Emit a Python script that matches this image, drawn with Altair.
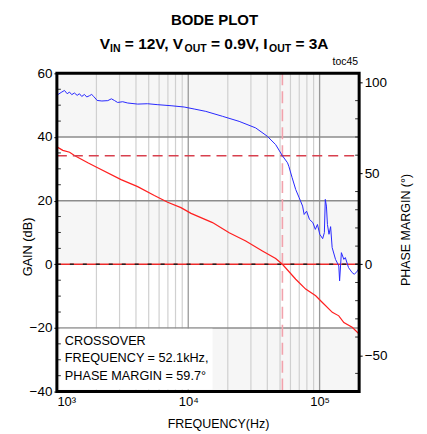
import altair as alt
import pandas as pd

# ---------------- data ----------------
gain_freq = [1000, 1110, 1250, 1360, 1720, 1990, 3080, 4120, 5520, 6970, 8800, 10500,
             15300, 20500, 27400, 36700, 46300, 52100, 65800, 78300, 93400, 105000,
             125000, 140000, 153000, 177000, 200000]
gain_db = [36.9, 35.8, 35.2, 34.2, 31.9, 30.6, 26.6, 24.4, 21.6, 19.5, 17.8, 16.0,
           13.1, 9.9, 7.3, 4.2, 1.8, 0.0, -4.7, -7.8, -9.9, -12.0,
           -15.1, -16.2, -18.3, -19.8, -21.9]

phase_freq = [1000, 1016, 1078, 1142, 1198, 1247, 1298, 1360, 1427, 1485, 1546, 1621,
              1688, 1769, 1841, 1907, 2025, 2200, 2440, 2600, 2740, 2900, 3170, 3460,
              4120, 4900, 5800, 7400, 9300, 11100, 13600, 18200, 24400, 32600, 40000,
              46300, 52100, 57000, 58300, 61800, 65800, 69900, 74200, 76300, 79600,
              83700, 88900, 92800, 96300, 100300, 105500, 108700, 110500, 112700,
              114700, 117900, 121300, 124600, 132200, 140000, 142000, 146500, 153000,
              157000, 166000, 177000, 184000, 194000, 200000]
phase_deg = [93.3, 93.3, 94.5, 95.6, 93.8, 94.7, 93.3, 94.2, 92.9, 93.8, 92.3, 93.4,
             92.0, 92.7, 93.4, 92.3, 90.1, 89.8, 90.0, 91.0, 90.1, 89.0, 89.4, 88.7,
             88.1, 88.3, 87.8, 87.2, 86.5, 85.4, 84.1, 81.4, 78.6, 75.0, 70.4,
             65.8, 59.7, 55.8, 53.9, 47.6, 41.1, 36.6, 32.0, 27.4, 29.2,
             24.7, 22.9, 19.2, 21.9, 16.5, 14.1, 17.4, 35.7, 32.0,
             21.9, 16.5, 20.7, 9.2, 2.7, -0.9, -9.1, 6.4, 2.7,
             3.7, -1.8, -4.6, -5.5, -3.7, -2.0]

minor_grid = [2000, 3000, 4000, 5000, 6000, 7000, 8000, 9000,
              20000, 30000, 40000, 50000, 60000, 70000, 80000, 90000]
decade_grid = [10000, 100000]
gain_grid = [40, 20, -20]
band_lo = [40, 0, -40]
band_hi = [60, 20, -20]
gain_minor = [-35, -30, -25, -15, -10, -5, 5, 10, 15, 25, 30, 35, 45, 50, 55]
phase_minor = [-60, -40, -30, -20, -10, 10, 20, 30, 40, 60, 70, 80, 90]

crossover_freq = [52100]
phase_margin = [59.7]
zero_db = [0]

gain_ticks = [-40, -20, 0, 20, 40, 60]
phase_ticks = [-50, 0, 50, 100]
freq_ticks = [1000, 10000, 100000]

# subtitle pieces: (text, is_subscript)
subtitle_parts = [("V", False), ("IN", True), (" = 12V, V", False), ("OUT", True),
                  (" = 0.9V, I", False), ("OUT", True), (" = 3A", False)]

# ---------------- layout ----------------
W, H = 303, 319
FONT = "Liberation Sans, Arial, sans-serif"

xs = alt.Scale(type="log", domain=[1000, 200000])
gs = alt.Scale(domain=[-40, 60])
ps = alt.Scale(domain=[-70, 105])

x_axis = alt.Axis(values=freq_ticks,
                  labelExpr="datum.value == 1000 ? '10³' : (datum.value == 10000 ? '10⁴' : '10⁵')",
                  grid=False, domain=False, ticks=False, labelFont=FONT, labelFontSize=13,
                  labelColor="black", labelPadding=4, labelFlush=True, title=None)
g_axis = alt.Axis(values=gain_ticks, grid=False, domain=False, tickSize=3, tickColor="black",
                  labelFont=FONT, labelFontSize=13.5, labelColor="black", labelPadding=2,
                  title=None)
p_axis = alt.Axis(orient="right", values=phase_ticks, grid=False, domain=False, tickSize=3,
                  tickColor="black", labelFont=FONT, labelFontSize=13.5, labelColor="black",
                  labelPadding=2, title=None)


def X(field):
    return alt.X(field, type="quantitative", scale=xs, axis=x_axis)


def GY(field):
    return alt.Y(field, type="quantitative", scale=gs, axis=g_axis)


def PY(field):
    return alt.Y(field, type="quantitative", scale=ps, axis=p_axis)


def label(text, x, y, size=13, bold=False, align="center", angle=0, baseline="middle"):
    return alt.Chart(pd.DataFrame({"t": [text]})).mark_text(
        align=align, baseline=baseline, font=FONT, fontSize=size,
        fontWeight="bold" if bold else "normal", angle=angle, color="black"
    ).encode(text="t:N", x=alt.value(x), y=alt.value(y))


# Arial/Liberation Sans Bold advance widths (em) to place subscript pieces
BOLD_W = {"V": .667, "I": .278, "N": .722, "O": .778, "U": .722, "T": .611, " ": .278,
          "=": .584, "1": .556, "2": .556, ",": .278, "0": .556, ".": .278, "9": .556,
          "3": .556, "A": .722}
MAIN_SIZE, SUB_SIZE = 15.5, 10.5
sub_layers = []
cur = 43.0
for txt, is_sub in subtitle_parts:
    size = SUB_SIZE if is_sub else MAIN_SIZE
    lead = 0.0
    shown = txt
    if txt.startswith(" "):
        lead = BOLD_W[" "] * size
        shown = txt.lstrip(" ")
    y = -21.2 if is_sub else -24.7
    sub_layers.append(label(shown, cur + lead, y, size=size, bold=True, align="left",
                            baseline="alphabetic"))
    cur += sum(BOLD_W[c] for c in txt) * size

one = pd.DataFrame({"k": [0]})

bands = alt.Chart(pd.DataFrame({"lo": band_lo, "hi": band_hi})).mark_rect(
    color="#f6f6f6").encode(y=GY("lo"), y2="hi:Q", x=alt.value(0), x2=alt.value(W))
vminor = alt.Chart(pd.DataFrame({"f": minor_grid})).mark_rule(
    color="#d0d0d0", strokeWidth=1.2).encode(x=X("f"), y=alt.value(0), y2=alt.value(H))
vmajor = alt.Chart(pd.DataFrame({"f": decade_grid})).mark_rule(
    color="#999999", strokeWidth=1.3).encode(x=X("f"), y=alt.value(0), y2=alt.value(H))
hgrid = alt.Chart(pd.DataFrame({"g": gain_grid})).mark_rule(
    color="#8c8c8c", strokeWidth=1.5).encode(y=GY("g"), x=alt.value(0), x2=alt.value(W))

box = alt.Chart(one).mark_rect(color="white").encode(
    x=alt.value(3), x2=alt.value(156), y=alt.value(256), y2=alt.value(H - 2))
note1 = label("CROSSOVER", 8, 268.5, size=12.7, align="left")
note2 = label("FREQUENCY = 52.1kHz,", 8, 285.5, size=12.7, align="left")
note3 = label("PHASE MARGIN = 59.7°", 8, 303.5, size=12.7, align="left")

zero_red = alt.Chart(pd.DataFrame({"g": zero_db})).mark_rule(
    color="#ee2a2a", strokeWidth=1.5).encode(y=GY("g"), x=alt.value(0), x2=alt.value(W))
zero_dash = alt.Chart(pd.DataFrame({"g": zero_db})).mark_rule(
    color="#222222", strokeWidth=1.5, strokeDash=[4, 9]).encode(
    y=GY("g"), x=alt.value(0), x2=alt.value(W))
vcross = alt.Chart(pd.DataFrame({"f": crossover_freq})).mark_rule(
    color="#f2a2ac", strokeWidth=1.6, strokeDash=[12, 6]).encode(
    x=X("f"), y=alt.value(0), y2=alt.value(H))
gain_line = alt.Chart(pd.DataFrame({"f": gain_freq, "g": gain_db})).mark_line(
    color="#ff1f1f", strokeWidth=1.2).encode(x=X("f"), y=GY("g"))
gminor = alt.Chart(pd.DataFrame({"g": gain_minor})).mark_rule(
    color="#333333", strokeWidth=1).encode(y=GY("g"), x=alt.value(0), x2=alt.value(4))

pm_line = alt.Chart(pd.DataFrame({"p": phase_margin})).mark_rule(
    color="#d8404e", strokeWidth=1.6, strokeDash=[10, 6]).encode(
    y=PY("p"), x=alt.value(0), x2=alt.value(W))
phase_line = alt.Chart(pd.DataFrame({"f": phase_freq, "p": phase_deg})).mark_line(
    color="#2828ff", strokeWidth=1).encode(x=X("f"), y=PY("p"))
pminor = alt.Chart(pd.DataFrame({"p": phase_minor})).mark_rule(
    color="#333333", strokeWidth=1).encode(y=PY("p"), x=alt.value(W - 4), x2=alt.value(W))

frame = alt.Chart(one).mark_rect(filled=False, stroke="black", strokeWidth=3).encode(
    x=alt.value(0), x2=alt.value(W), y=alt.value(0), y2=alt.value(H))

gain_layer = alt.layer(bands, vminor, vmajor, hgrid, box, zero_red, zero_dash, vcross,
                       gain_line, gminor)
phase_layer = alt.layer(pm_line, phase_line, pminor)

texts = [
    label("BODE PLOT", 158, -48.5, size=15, bold=True, baseline="alphabetic"),
    *sub_layers,
    label("toc45", 302, -11, size=10.5, align="right"),
    label("GAIN (dB)", -29, 174, size=12.8, angle=270),
    label("PHASE MARGIN (°)", 350, 157, size=12.5, angle=270),
    label("FREQUENCY(Hz)", 162, 352, size=12.5),
]

chart = alt.layer(gain_layer, phase_layer, note1, note2, note3, frame, *texts).resolve_scale(
    y="independent"
).properties(
    width=W, height=H,
    padding={"left": 49, "top": 65, "right": 60, "bottom": 42},
    autosize=alt.AutoSizeParams(type="none"),
    background="white",
).configure_view(stroke="transparent")

chart.save("out.html", embed_options={"renderer": "svg", "actions": False})
